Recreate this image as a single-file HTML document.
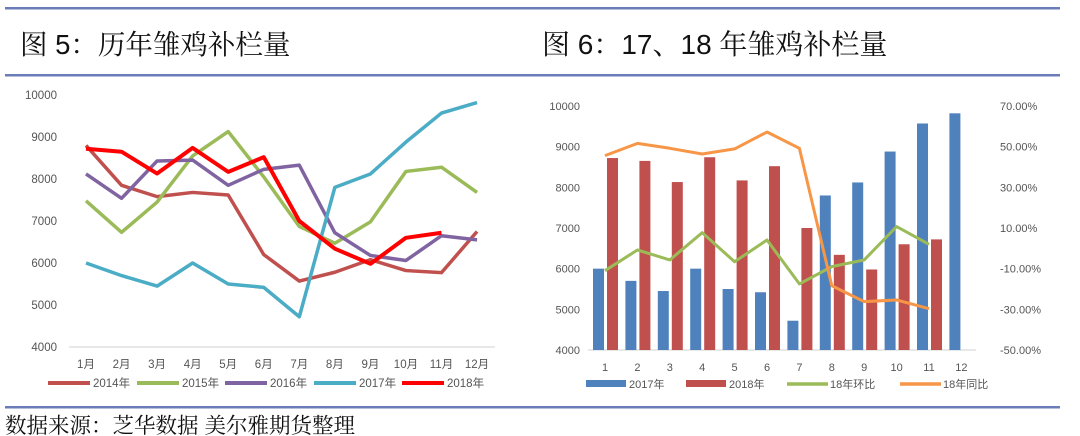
<!DOCTYPE html>
<html><head><meta charset="utf-8"><style>
body{margin:0;width:1080px;height:436px;background:#fff;overflow:hidden;font-family:"Liberation Sans","Noto Sans CJK SC",sans-serif;}
svg{position:absolute;left:0;top:0}
</style></head><body>
<svg width="1080" height="436">
<rect x="5" y="7" width="1055" height="2.5" fill="#6b7db8"/>
<rect x="5" y="74" width="1055" height="2.5" fill="#6b7db8"/>
<rect x="5" y="406" width="1055" height="2.5" fill="#6b7db8"/>
<text x="20" y="54" font-size="27.5" fill="#111" font-family="'Liberation Sans','Noto Serif CJK SC',serif">图 5：历年雏鸡补栏量</text>
<text x="542" y="54" font-size="28" fill="#111" font-family="'Liberation Sans','Noto Serif CJK SC',serif">图 6：17、18 年雏鸡补栏量</text>
<text x="5" y="433" font-size="21.5" fill="#111" font-family="'Liberation Sans','Noto Serif CJK SC',serif">数据来源：芝华数据 美尔雅期货整理</text>
<g id="c1"></g>
<g id="c2"></g>
</svg>
<script>
const months=["1月","2月","3月","4月","5月","6月","7月","8月","9月","10月","11月","12月"];
const yTicks1=[4000,5000,6000,7000,8000,9000,10000];
const s2014=[8800,7850,7580,7680,7620,6200,5570,5780,6080,5820,5770,6750];
const s2015=[7480,6730,7450,8550,9130,8050,6870,6470,6980,8180,8280,7680];
const s2016=[8120,7540,8430,8450,7850,8230,8330,6720,6180,6060,6650,6550];
const s2017=[6000,5700,5450,6000,5500,5420,4720,7800,8120,8880,9570,9820];
const s2018=[8720,8650,8130,8740,8170,8520,7000,6340,5980,6600,6720];
const cats2=["1","2","3","4","5","6","7","8","9","10","11","12"];
const yTicks2=[4000,5000,6000,7000,8000,9000,10000];
const rTicks=[-50,-30,-10,10,30,50,70];
const mom18=[-11,-0.8,-5.7,7.7,-6.6,4.1,-17.5,-9,-5.7,10.7,2];
const yoy18=[45.6,51.6,49.2,46.4,48.9,57.2,49.2,-18.4,-26.2,-25.4,-29.7];

const NS="http://www.w3.org/2000/svg";
function el(p,t,a,txt){const e=document.createElementNS(NS,t);for(const k in a)e.setAttribute(k,a[k]);if(txt!==undefined)e.textContent=txt;p.appendChild(e);return e;}
const g1=document.getElementById('c1'),g2=document.getElementById('c2');
// chart 5
const x1=i=>86+i*35.55, y1=v=>347-(v-4000)/6000*252;
yTicks1.forEach(v=>{const t=el(g1,'text',{x:57,y:y1(v)+4,'font-size':11.5,fill:'#555','text-anchor':'end'},v);

});
const ax1=el(g1,'line',{x1:69,x2:495,y1:347,y2:347,stroke:'#d9d9d9','stroke-width':1.2});


months.forEach((m,i)=>{const t=el(g1,'text',{x:x1(i),y:368,'font-size':11.5,fill:'#555','text-anchor':'middle'},m);

});
const ser1=[[s2014,'#c0504d','2014年',48],[s2015,'#9bbb59','2015年',137],[s2016,'#8064a2','2016年',225],[s2017,'#4bacc6','2017年',314],[s2018,'#ff0000','2018年',402]];
ser1.forEach(([d,c,n,lx])=>{
 const p=el(g1,'polyline',{points:d.map((v,i)=>x1(i)+','+y1(v)).join(' '),fill:'none',stroke:c,'stroke-width':n==='2018年'?4:3.5,'stroke-linejoin':'round'});
 
 
 const l=el(g1,'line',{x1:lx,x2:lx+42,y1:383,y2:383,stroke:c,'stroke-width':4});
 
 
 const t=el(g1,'text',{x:lx+45,y:387,'font-size':11.5,fill:'#555'},n);
 
 
});
// chart 6
const x2=i=>605+i*32.4, y2=v=>350-(v-4000)/6000*244, yr=v=>350-(v+50)/120*244;
yTicks2.forEach(v=>{const t=el(g2,'text',{x:580,y:y2(v)+4,'font-size':11,fill:'#555','text-anchor':'end'},v);

});
rTicks.forEach(v=>{const t=el(g2,'text',{x:1000,y:yr(v)+4,'font-size':11,fill:'#555'},v.toFixed(2)+'%');

});
const ax2=el(g2,'line',{x1:588,x2:976,y1:350,y2:350,stroke:'#d9d9d9','stroke-width':1.2});


cats2.forEach((m,i)=>{const t=el(g2,'text',{x:x2(i),y:371,'font-size':11,fill:'#555','text-anchor':'middle'},m);

});
s2017.forEach((v,i)=>{const r=el(g2,'rect',{x:x2(i)-12,y:y2(v),width:11,height:350-y2(v),fill:'#4f81bd'});

});
s2018.forEach((v,i)=>{const r=el(g2,'rect',{x:x2(i)+2,y:y2(v),width:11,height:350-y2(v),fill:'#c0504d'});

});
const pm=el(g2,'polyline',{points:mom18.map((v,i)=>x2(i)+','+yr(v)).join(' '),fill:'none',stroke:'#9bbb59','stroke-width':3,'stroke-linejoin':'round'});


const py=el(g2,'polyline',{points:yoy18.map((v,i)=>x2(i)+','+yr(v)).join(' '),fill:'none',stroke:'#f79646','stroke-width':3,'stroke-linejoin':'round'});


const leg2=[['#4f81bd','2017年',586,'rect'],['#c0504d','2018年',686,'rect'],['#9bbb59','18年环比',787,'line'],['#f79646','18年同比',900,'line']];
leg2.forEach(([c,n,lx,k])=>{
 const s=k==='rect'?el(g2,'rect',{x:lx,y:380,width:40,height:7,fill:c}):el(g2,'line',{x1:lx,x2:lx+41,y1:384,y2:384,stroke:c,'stroke-width':3.5});
 
 
 const t=el(g2,'text',{x:lx+43,y:388,'font-size':11,fill:'#555'},n);
 
 
});
</script>
</body></html>
